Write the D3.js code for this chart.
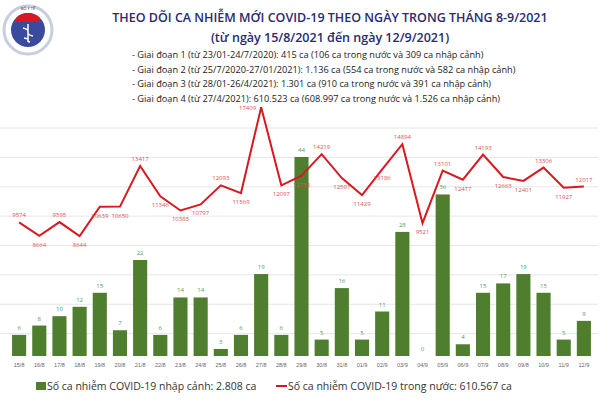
<!DOCTYPE html>
<html><head><meta charset="utf-8">
<script src="https://cdn.jsdelivr.net/npm/d3@7"></script>
<style>body{margin:0;background:#fff}svg{font-family:"Open Sans",sans-serif}</style>
</head><body><svg id="c" width="600" height="400"></svg>
<script>
const dates=["15/8","16/8","17/8","18/8","19/8","20/8","21/8","22/8","23/8","24/8","25/8","26/8","27/8","28/8","29/8","30/8","31/8","01/9","02/9","03/9","04/9","05/9","06/9","07/9","08/9","09/8","10/9","11/9","12/9"];
const domestic=[9574,8664,9595,8644,10639,10650,13417,11346,10383,10797,12093,11569,17409,12097,12752,14219,12591,11429,13186,14894,9521,13101,12477,14193,12663,12401,13306,11927,12017];
const imported=[6,8,10,12,15,7,22,6,14,14,3,6,19,6,44,5,16,5,11,28,0,36,4,15,17,19,15,5,9];
const gridTicks=[2000,4000,6000,8000,10000,12000,14000,16000];
const svg=d3.select("#c");
const x=d3.scaleBand().domain(dates).range([6,597]).padding(0.3);
const yL=d3.scaleLinear().domain([0,16000]).range([363,128]);
const yB=d3.scaleLinear().domain([0,44]).range([363,157]);
const base=356;
svg.append("g").selectAll("line").data(gridTicks).join("line")
 .attr("x1",0).attr("x2",598).attr("y1",d=>yL(d)).attr("y2",d=>yL(d))
 .attr("stroke","#e6e6e6").attr("stroke-width",1);
svg.append("g").selectAll("rect").data(imported).join("rect")
 .attr("x",(d,i)=>x(dates[i])).attr("width",x.bandwidth())
 .attr("y",d=>Math.min(base,yB(d))).attr("height",d=>Math.max(0,base-yB(d)))
 .attr("fill","#4f7f2e");
svg.append("g").selectAll("text").data(imported).join("text")
 .attr("x",(d,i)=>x(dates[i])+x.bandwidth()/2).attr("y",d=>Math.min(base,yB(d))-5)
 .attr("text-anchor","middle").attr("font-size",6).attr("fill","#4aa05a").text(d=>d);
const cx=i=>x(dates[i])+x.bandwidth()/2;
const line=d3.line().x((d,i)=>cx(i)).y(d=>yL(d));
svg.append("path").datum(domestic).attr("d",line).attr("fill","none").attr("stroke","#d71920").attr("stroke-width",2);
const maxV=d3.max(domestic);
svg.append("g").selectAll("text").data(domestic).join("text")
 .attr("x",(d,i)=>d===maxV?cx(i)-5:cx(i)).attr("y",(d,i)=>{
   if(d===maxV) return yL(d)+3;
   const p=domestic[i-1]??d, n=domestic[i+1]??d;
   return (d>=p&&d>=n)?yL(d)-5:yL(d)+11;})
 .attr("text-anchor",d=>d===maxV?"end":"middle").attr("font-size",6).attr("fill","#d9534f").text(d=>d);
svg.append("g").attr("transform","translate(0,359)")
 .call(d3.axisBottom(x).tickSize(0))
 .call(g=>g.select(".domain").remove())
 .selectAll("text").attr("font-size",5.5).attr("fill","#666").attr("dy","0.9em");
svg.append("rect").attr("x",36).attr("y",382).attr("width",10).attr("height",8).attr("fill","#4f7f2e");
svg.append("text").attr("x",47).attr("y",390).attr("font-size",10.5).attr("fill","#333").text("Số ca nhiễm COVID-19 nhập cảnh: 2.808 ca");
svg.append("line").attr("x1",276).attr("x2",287).attr("y1",386).attr("y2",386).attr("stroke","#d71920").attr("stroke-width",2);
svg.append("text").attr("x",288).attr("y",390).attr("font-size",10.5).attr("fill","#333").text("Số ca nhiễm COVID-19 trong nước: 610.567 ca");
svg.append("text").attr("x",330).attr("y",22).attr("text-anchor","middle").attr("font-size",12.5).attr("font-weight",600).attr("fill","#2a2a6e").text("THEO DÕI CA NHIỄM MỚI COVID-19 THEO NGÀY TRONG THÁNG 8-9/2021");
svg.append("text").attr("x",330).attr("y",42).attr("text-anchor","middle").attr("font-size",12.5).attr("font-weight",600).attr("fill","#2a2a6e").text("(từ ngày 15/8/2021 đến ngày 12/9/2021)");
const notes=["- Giai đoạn 1 (từ 23/01-24/7/2020): 415 ca (106 ca trong nước và 309 ca nhập cảnh)",
"- Giai đoạn 2 (từ 25/7/2020-27/01/2021): 1.136 ca (554 ca trong nước và 582 ca nhập cảnh)",
"- Giai đoạn 3 (từ 28/01-26/4/2021): 1.301 ca (910 ca trong nước và 391 ca nhập cảnh)",
"- Giai đoạn 4 (từ 27/4/2021): 610.523 ca (608.997 ca trong nước và 1.526 ca nhập cảnh)"];
svg.append("g").selectAll("text").data(notes).join("text").attr("x",132).attr("y",(d,i)=>58+i*14.5)
 .attr("font-size",9.2).attr("fill","#222").text(d=>d);
const lg=svg.append("g").attr("transform","translate(28,30)");
lg.append("circle").attr("r",24).attr("fill","#fff").attr("stroke","#c8cde0").attr("stroke-width",3);
lg.append("circle").attr("r",17).attr("fill","#3a4a9c");
lg.append("path").attr("d","M-12,-12 A17,17 0 0 1 12,-12 L12,-8 L-12,-8Z").attr("fill","#d71920");
lg.append("text").attr("y",-20).attr("text-anchor","middle").attr("font-size",4).attr("fill","#333").text("BỘ Y TẾ");
lg.append("path").attr("d","M0,-6 L0,12 M-5,-2 C5,0 -5,4 5,6 M-4,8 C4,9 -3,11 2,12").attr("stroke","#fff").attr("fill","none").attr("stroke-width",1.5);
</script></body></html>
